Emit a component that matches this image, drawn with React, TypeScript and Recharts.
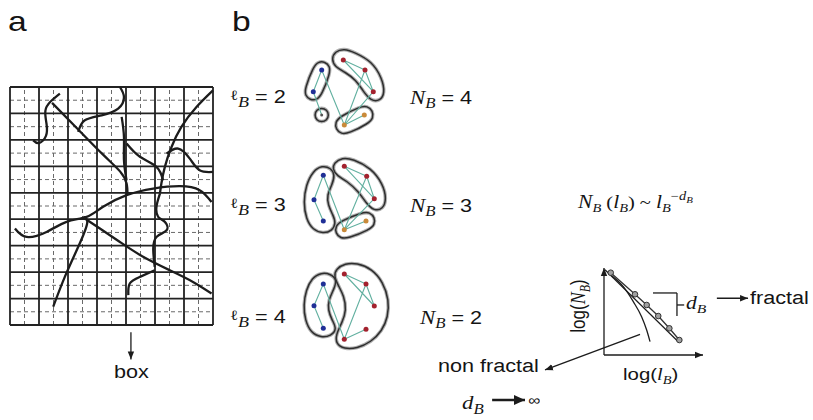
import React from 'react'
import { ComposedChart, Line, Scatter, XAxis, YAxis, ReferenceLine } from 'recharts'

const SANS = '"Liberation Sans", Arial, sans-serif'
const SERIF = '"Liberation Serif", "Times New Roman", serif'
const INK = '#1c1c1c'

// ---- panel a: box grid (7 columns x 9 rows) and the polymer chains on it
const gridCols = [0, 1, 2, 3, 4, 5, 6, 7]
const gridRows = [0, 1, 2, 3, 4, 5, 6, 7, 8, 9]
const halfCols = [0.5, 1.5, 2.5, 3.5, 4.5, 5.5, 6.5]
const halfRows = [0.5, 1.5, 2.5, 3.5, 4.5, 5.5, 6.5, 7.5, 8.5]

const chainA = [{ x: 1.72, y: 0.25 }, { x: 1.4, y: 0.55 }, { x: 1.22, y: 0.9 }, { x: 1.26, y: 1.4 }, { x: 1.24, y: 1.85 }, { x: 1.0, y: 2.12 }, { x: 0.8, y: 2.02 }]
const chainB = [{ x: 1.45, y: 0.6 }, { x: 2.3, y: 1.55 }, { x: 3.2, y: 2.55 }, { x: 3.8, y: 3.2 }, { x: 4.02, y: 3.65 }, { x: 4.05, y: 4.05 }]
const chainC = [{ x: 0.17, y: 5.35 }, { x: 0.57, y: 5.67 }, { x: 1.26, y: 5.48 }, { x: 1.95, y: 5.1 }, { x: 2.64, y: 4.91 }, { x: 3.21, y: 4.53 }, { x: 4.02, y: 4.09 }, { x: 4.94, y: 3.84 }, { x: 5.86, y: 3.75 }, { x: 6.54, y: 3.9 }, { x: 6.95, y: 4.35 }]
const chainD = [{ x: 1.49, y: 8.31 }, { x: 1.89, y: 7.18 }, { x: 2.35, y: 6.05 }, { x: 2.66, y: 5.16 }, { x: 2.53, y: 4.91 }]
const chainE = [{ x: 2.58, y: 4.97 }, { x: 3.1, y: 5.35 }, { x: 3.79, y: 5.86 }, { x: 4.59, y: 6.42 }, { x: 5.51, y: 6.93 }, { x: 6.31, y: 7.37 }, { x: 6.95, y: 7.81 }]
const chainF = [{ x: 4.08, y: 7.87 }, { x: 4.13, y: 7.43 }, { x: 4.48, y: 7.18 }, { x: 4.99, y: 6.93 }]
const chainG = [{ x: 4.99, y: 6.8 }, { x: 4.94, y: 6.17 }, { x: 5.05, y: 5.67 }, { x: 5.4, y: 5.42 }, { x: 5.34, y: 5.1 }, { x: 5.11, y: 4.91 }, { x: 5.05, y: 4.53 }, { x: 5.17, y: 4.03 }]
const chainH = [{ x: 3.79, y: 0.0 }, { x: 3.93, y: 0.38 }, { x: 3.73, y: 0.82 }, { x: 3.16, y: 1.07 }, { x: 2.58, y: 1.26 }, { x: 2.35, y: 1.7 }]
const chainI = [{ x: 3.85, y: 1.13 }, { x: 3.93, y: 1.89 }, { x: 3.93, y: 2.77 }, { x: 4.02, y: 3.53 }]
const chainJ = [{ x: 7.0, y: 0.13 }, { x: 6.43, y: 0.76 }, { x: 5.91, y: 1.51 }, { x: 5.57, y: 2.27 }, { x: 5.34, y: 3.02 }, { x: 5.22, y: 3.65 }, { x: 5.17, y: 4.03 }]
const chainK = [{ x: 5.4, y: 2.52 }, { x: 5.8, y: 2.33 }, { x: 6.2, y: 2.71 }, { x: 6.54, y: 3.15 }, { x: 7.0, y: 3.21 }]
const chainL = [{ x: 4.02, y: 2.14 }, { x: 4.48, y: 2.64 }, { x: 5.05, y: 3.02 }, { x: 5.28, y: 3.53 }]
const chains = [chainA, chainB, chainC, chainD, chainE, chainF, chainG, chainH, chainI, chainJ, chainK, chainL]

// ---- panel b: networks (local units 0..100), c = group colour
const nodes1 = [
  { x: 26.7, y: 25, c: 'b' }, { x: 18.3, y: 46.7, c: 'b' },
  { x: 48.3, y: 15, c: 'r' }, { x: 70, y: 25, c: 'r' }, { x: 78.3, y: 46.7, c: 'r' },
  { x: 49.3, y: 80, c: 'o' }, { x: 69.3, y: 70, c: 'o' },
  { x: 26.7, y: 70, c: 'g' },
]
const links1 = [[0, 1], [1, 7], [0, 5], [2, 3], [2, 4], [3, 4], [3, 5], [4, 5], [5, 6]]
const hullBlue1 = [{ x: 29.9, y: 16.6 }, { x: 34.9, y: 21.4 }, { x: 35.1, y: 28.2 }, { x: 26.7, y: 49.9 }, { x: 21.9, y: 54.9 }, { x: 15.1, y: 55.1 }, { x: 10.1, y: 50.3 }, { x: 9.9, y: 43.5 }, { x: 18.3, y: 21.8 }, { x: 23.1, y: 16.8 }]
const hullRed1 = [{ x: 40, y: 6.5 }, { x: 49, y: 3.5 }, { x: 60, y: 7.5 }, { x: 77, y: 16.5 }, { x: 87, y: 33 }, { x: 90, y: 48 }, { x: 85, y: 56 }, { x: 76, y: 56 }, { x: 68, y: 46 }, { x: 61, y: 35 }, { x: 50, y: 27 }, { x: 40, y: 22 }, { x: 36.5, y: 14 }]
const hullOrange1 = [{ x: 45.1, y: 71.5 }, { x: 40.3, y: 77 }, { x: 40.8, y: 84.2 }, { x: 46.3, y: 89 }, { x: 53.5, y: 88.5 }, { x: 73.5, y: 78.5 }, { x: 78.3, y: 73 }, { x: 77.8, y: 65.8 }, { x: 72.3, y: 61 }, { x: 65.1, y: 61.5 }]
const hullSingle1 = [{ x: 26.7, y: 62.7 }, { x: 31.9, y: 64.8 }, { x: 34, y: 70 }, { x: 31.9, y: 75.2 }, { x: 26.7, y: 77.3 }, { x: 21.5, y: 75.2 }, { x: 19.4, y: 70 }, { x: 21.5, y: 64.8 }]

const nodes2 = [
  { x: 28.3, y: 18.3, c: 'b' }, { x: 19, y: 42.7, c: 'b' }, { x: 28.3, y: 64, c: 'b' },
  { x: 49.3, y: 9.3, c: 'r' }, { x: 71.7, y: 19.3, c: 'r' }, { x: 79.3, y: 41.7, c: 'r' },
  { x: 49.3, y: 72.7, c: 'o' }, { x: 71, y: 64, c: 'o' },
]
const links2 = [[0, 1], [1, 2], [0, 6], [3, 4], [3, 5], [4, 5], [4, 6], [5, 6], [6, 7]]
const hullBlue2 = [{ x: 27, y: 8.5 }, { x: 36, y: 11 }, { x: 40, y: 18 }, { x: 37, y: 28 }, { x: 32, y: 38 }, { x: 33, y: 48 }, { x: 38, y: 58 }, { x: 41, y: 66 }, { x: 37, y: 74 }, { x: 28, y: 76.5 }, { x: 18, y: 73 }, { x: 11, y: 62 }, { x: 8.5, y: 45 }, { x: 11, y: 28 }, { x: 18, y: 14 }]
const hullRed2 = [{ x: 39, y: 6 }, { x: 47, y: 0.5 }, { x: 58, y: 2 }, { x: 76, y: 11 }, { x: 88, y: 27 }, { x: 91.5, y: 42 }, { x: 88, y: 52 }, { x: 79, y: 54 }, { x: 71, y: 46 }, { x: 64, y: 35 }, { x: 52, y: 24 }, { x: 42, y: 19 }, { x: 37.5, y: 12 }]
const hullOrange2 = [{ x: 45.8, y: 63.9 }, { x: 40.6, y: 69 }, { x: 40.5, y: 76.2 }, { x: 45.6, y: 81.4 }, { x: 52.8, y: 81.5 }, { x: 74.5, y: 72.8 }, { x: 79.7, y: 67.7 }, { x: 79.8, y: 60.5 }, { x: 74.7, y: 55.3 }, { x: 67.5, y: 55.2 }]

const nodes3 = [
  { x: 28.3, y: 24, c: 'b' }, { x: 19, y: 45.7, c: 'b' }, { x: 28.3, y: 68.3, c: 'b' },
  { x: 49.3, y: 14, c: 'r' }, { x: 71, y: 24, c: 'r' }, { x: 79.3, y: 46, c: 'r' },
  { x: 71, y: 69.3, c: 'r' }, { x: 49.3, y: 79.3, c: 'r' },
]
const links3 = [[0, 1], [1, 2], [0, 7], [3, 4], [3, 5], [4, 5], [4, 7], [6, 7]]
const hullBlue3 = [{ x: 26, y: 12.5 }, { x: 36, y: 14 }, { x: 42, y: 20 }, { x: 39, y: 29 }, { x: 33.5, y: 40 }, { x: 33, y: 50 }, { x: 37, y: 60 }, { x: 42, y: 69 }, { x: 36, y: 76 }, { x: 26, y: 77.5 }, { x: 16, y: 73 }, { x: 10, y: 60 }, { x: 8.5, y: 45 }, { x: 11, y: 30 }, { x: 17, y: 18 }]
const hullRed3 = [{ x: 41, y: 9 }, { x: 50, y: 3.5 }, { x: 62, y: 3 }, { x: 77, y: 9 }, { x: 88, y: 22 }, { x: 94, y: 40 }, { x: 93, y: 57 }, { x: 87, y: 71 }, { x: 76, y: 82 }, { x: 62, y: 88.5 }, { x: 49, y: 89 }, { x: 41, y: 84 }, { x: 41, y: 74 }, { x: 47, y: 63 }, { x: 51.5, y: 50 }, { x: 49, y: 36 }, { x: 43, y: 25 }, { x: 39, y: 16 }]

// ---- box-counting log-log sketch (arbitrary log units 0..10)
const fractalPts = [{ x: 0.68, y: 9.46 }, { x: 3.13, y: 6.98 }, { x: 4.31, y: 5.75 }, { x: 5.48, y: 4.48 }, { x: 6.6, y: 3.07 }, { x: 7.61, y: 1.72 }]
const fitPts = [{ x: 0.1, y: 9.8 }, { x: 7.4, y: 1.64 }]
const nonFractalPts = [{ x: 0.44, y: 9.39 }, { x: 1.95, y: 7.85 }, { x: 2.96, y: 6.13 }, { x: 3.8, y: 4.4 }, { x: 4.31, y: 2.87 }, { x: 4.65, y: 1.53 }]

const NODE_FILL: Record<string, string> = { b: '#1f2f96', r: '#a3222e', o: '#c98a3a', g: '#555' }

function Txt({ x, y, size = 18, children, style }: any) {
  return (
    <div
      style={{
        position: 'absolute', left: x, top: y - 0.85 * size, fontSize: size, lineHeight: 1,
        fontFamily: SANS, whiteSpace: 'nowrap', color: '#141414',
        transform: 'scaleX(1.2)', transformOrigin: '0 0', ...style,
      }}
    >
      {children}
    </div>
  )
}
const It = ({ children, size }: any) => <span style={{ fontFamily: SERIF, fontStyle: 'italic', fontSize: size }}>{children}</span>
const Sub = ({ children, size, dy = 5 }: any) => (
  <span style={{ fontFamily: SERIF, fontStyle: 'italic', fontSize: size, position: 'relative', top: dy }}>{children}</span>
)
const Ell = ({ n }: any) => (
  <>
    <span style={{ fontFamily: SERIF, fontSize: 14, position: 'relative', top: -3 }}>ℓ</span>
    <Sub size={15} dy={4}>B</Sub> = {n}
  </>
)
const NB = ({ n }: any) => (
  <>
    <It size={19}>N</It>
    <Sub size={14} dy={4}>B</Sub> = {n}
  </>
)

function NetPanel({ left, top, nodes, links, hulls }: any) {
  const edgeRows = links.flatMap(([a, b]: number[]) => [
    { x: nodes[a].x, y: nodes[a].y },
    { x: nodes[b].x, y: nodes[b].y },
    { x: nodes[b].x, y: null },
  ])
  return (
    <div style={{ position: 'absolute', left: left - 5, top: top - 5 }}>
      <ComposedChart width={110} height={110} margin={{ top: 5, right: 5, bottom: 5, left: 5 }}>
        <XAxis type="number" dataKey="x" domain={[0, 100]} hide />
        <YAxis type="number" dataKey="y" domain={[0, 100]} reversed hide />
        {hulls.map((h: any, i: number) => (
          <Line key={'hs' + i} data={h} dataKey="y" type="basisClosed" stroke="#b0b0b0" strokeWidth={3.6} dot={false} isAnimationActive={false} />
        ))}
        {hulls.map((h: any, i: number) => (
          <Line key={'h' + i} data={h} dataKey="y" type="basisClosed" stroke="#2e2e2e" strokeWidth={1.5} dot={false} isAnimationActive={false} />
        ))}
        <Line data={edgeRows} dataKey="y" type="linear" stroke="#62b0a0" strokeWidth={1.1} dot={false} isAnimationActive={false} />
        <Scatter
          data={nodes}
          isAnimationActive={false}
          shape={(p: any) => (
            <circle cx={p.cx} cy={p.cy} r={p.payload.c === 'g' ? 1.5 : 2.5} fill={NODE_FILL[p.payload.c]} />
          )}
        />
      </ComposedChart>
    </div>
  )
}

export default function App() {
  return (
    <div style={{ position: 'absolute', left: 0, top: 0, width: 813, height: 420, background: '#fff', overflow: 'hidden', fontFamily: SANS }}>
      <svg width={0} height={0} style={{ position: 'absolute' }}>
        <defs>
          <marker id="ah" viewBox="0 0 10 10" refX={10} refY={5} markerUnits="userSpaceOnUse" markerWidth={8} markerHeight={8} orient="auto-start-reverse">
            <path d="M0,1 L10,5 L0,9 z" fill={INK} />
          </marker>
          <marker id="ahb" viewBox="0 0 10 10" refX={10} refY={5} markerUnits="userSpaceOnUse" markerWidth={11} markerHeight={11} orient="auto-start-reverse">
            <path d="M0,0.5 L10,5 L0,9.5 z" fill={INK} />
          </marker>
        </defs>
      </svg>

      {/* panel a */}
      <div style={{ position: 'absolute', left: 5, top: 82 }}>
        <ComposedChart width={213} height={290} margin={{ top: 5, right: 5, bottom: 47, left: 5 }}>
          <XAxis type="number" dataKey="x" domain={[0, 7]} hide />
          <YAxis type="number" dataKey="y" domain={[0, 9]} reversed hide />
          {halfCols.map((v) => (
            <ReferenceLine key={'hc' + v} x={v} stroke="#6a6a6a" strokeWidth={1} strokeDasharray="4 3" />
          ))}
          {halfRows.map((v) => (
            <ReferenceLine key={'hr' + v} y={v} stroke="#6a6a6a" strokeWidth={1} strokeDasharray="4 3" />
          ))}
          {gridCols.map((v) => (
            <ReferenceLine key={'c' + v} x={v} stroke="#222" strokeWidth={1.8} />
          ))}
          {gridRows.map((v) => (
            <ReferenceLine key={'r' + v} y={v} stroke="#222" strokeWidth={1.8} />
          ))}
          {chains.map((c, i) => (
            <Line key={'ch' + i} data={c} dataKey="y" type="natural" stroke={INK} strokeWidth={2.3} dot={false} isAnimationActive={false} />
          ))}
          <ReferenceLine segment={[{ x: 4.17, y: 9.27 }, { x: 4.17, y: 10.3 }]} ifOverflow="visible" stroke={INK} strokeWidth={1.3} markerEnd="url(#ah)" />
        </ComposedChart>
      </div>

      {/* panel b networks */}
      <NetPanel left={295} top={45} nodes={nodes1} links={links1} hulls={[hullBlue1, hullRed1, hullOrange1, hullSingle1]} />
      <NetPanel left={295} top={157} nodes={nodes2} links={links2} hulls={[hullBlue2, hullRed2, hullOrange2]} />
      <NetPanel left={295} top={260} nodes={nodes3} links={links3} hulls={[hullBlue3, hullRed3]} />

      {/* log-log sketch */}
      <div style={{ position: 'absolute', left: 430, top: 240 }}>
        <ComposedChart width={383} height={180} margin={{ top: 28, right: 110, bottom: 65, left: 174 }}>
          <XAxis type="number" dataKey="x" domain={[0, 10]} hide />
          <YAxis type="number" dataKey="y" domain={[0, 10]} hide />
          {/* axes with arrow heads */}
          <ReferenceLine segment={[{ x: 0, y: 0 }, { x: 0, y: 10 }]} ifOverflow="visible" stroke={INK} strokeWidth={1.3} markerEnd="url(#ah)" />
          <ReferenceLine segment={[{ x: 0, y: 0 }, { x: 10, y: 0 }]} ifOverflow="visible" stroke={INK} strokeWidth={1.3} markerEnd="url(#ah)" />
          <Line data={nonFractalPts} dataKey="y" type="monotone" stroke={INK} strokeWidth={1.3} dot={false} isAnimationActive={false} />
          <Line data={fitPts} dataKey="y" type="linear" stroke={INK} strokeWidth={1.2} dot={false} isAnimationActive={false} />
          <Line data={fractalPts} dataKey="y" type="linear" stroke="#333" strokeWidth={1.3}
            dot={{ r: 2.8, fill: '#a0a0a0', stroke: '#333', strokeWidth: 1 }} isAnimationActive={false} />
          <ReferenceLine segment={[{ x: 3.64, y: 2.38 }, { x: -5.96, y: -1.72 }]} ifOverflow="visible" stroke={INK} strokeWidth={1.4} markerEnd="url(#ah)" />
          <ReferenceLine segment={[{ x: 4.95, y: 7.13 }, { x: 7.37, y: 7.13 }]} ifOverflow="visible" stroke={INK} strokeWidth={1.3} />
          <ReferenceLine segment={[{ x: 7.37, y: 7.13 }, { x: 7.37, y: 4.48 }]} ifOverflow="visible" stroke={INK} strokeWidth={1.3} />
          <ReferenceLine segment={[{ x: 7.37, y: 5.75 }, { x: 8.1, y: 5.75 }]} ifOverflow="visible" stroke={INK} strokeWidth={1.3} />
          <ReferenceLine segment={[{ x: 11.4, y: 6.52 }, { x: 14.55, y: 6.52 }]} ifOverflow="visible" stroke={INK} strokeWidth={1.4} markerEnd="url(#ah)" />
          <ReferenceLine segment={[{ x: -11.3, y: -5.17 }, { x: -7.98, y: -5.17 }]} ifOverflow="visible" stroke={INK} strokeWidth={2.6} markerEnd="url(#ahb)" />
        </ComposedChart>
      </div>

      {/* texts */}
      <Txt x={8} y={32} size={28}>a</Txt>
      <Txt x={232} y={32} size={28}>b</Txt>
      <Txt x={114} y={378} size={18}>box</Txt>

      <Txt x={230} y={103}><Ell n={2} /></Txt>
      <Txt x={410} y={103}><NB n={4} /></Txt>
      <Txt x={230} y={211}><Ell n={3} /></Txt>
      <Txt x={410} y={211}><NB n={3} /></Txt>
      <Txt x={230} y={323}><Ell n={4} /></Txt>
      <Txt x={420} y={323}><NB n={2} /></Txt>

      <Txt x={578} y={207} size={17} style={{ fontFamily: SERIF }}>
        <It size={18}>N</It><Sub size={12} dy={4}>B</Sub> (<It size={18}>l</It><Sub size={12} dy={4}>B</Sub>) ~ <It size={18}>l</It>
        <Sub size={12} dy={4}>B</Sub>
        <span style={{ fontSize: 12, position: 'relative', top: -8 }}>−<i>d</i><span style={{ fontSize: 9, fontStyle: 'italic', position: 'relative', top: 3 }}>B</span></span>
      </Txt>

      <Txt x={438} y={372} size={18}>non fractal</Txt>
      <Txt x={750} y={304} size={18}>fractal</Txt>
      <Txt x={686} y={309}><It size={18}>d</It><Sub size={13} dy={4}>B</Sub></Txt>
      <Txt x={623} y={380} size={17}>log(<It size={17}>l</It><Sub size={12} dy={4}>B</Sub>)</Txt>
      <div
        style={{
          position: 'absolute', left: 578, top: 306, fontSize: 17, lineHeight: 1, fontFamily: SANS, whiteSpace: 'nowrap',
          color: '#141414', transform: 'translate(-50%,-50%) scaleX(1.2) rotate(-90deg)',
        }}
      >
        log(<It size={18}>N</It><Sub size={12} dy={4}>B</Sub>)
      </div>
      <Txt x={462} y={408}><It size={19}>d</It><Sub size={14} dy={5}>B</Sub></Txt>
      <Txt x={528} y={405} size={14}>∞</Txt>
    </div>
  )
}
